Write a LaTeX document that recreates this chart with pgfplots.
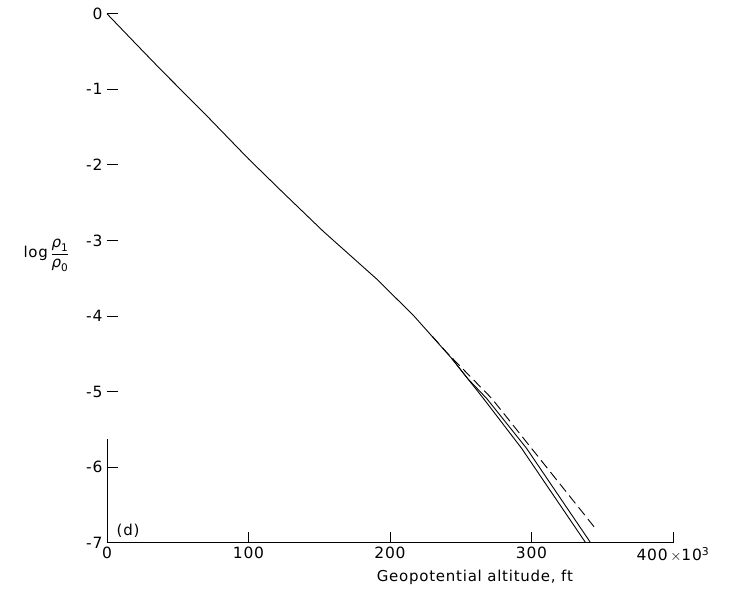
\documentclass[border=0pt]{standalone}
\usepackage{amsmath}
\usepackage{fontspec}
\setmainfont{DejaVu Sans}[LetterSpace=5]
\usepackage{pgfplots}
\pgfplotsset{compat=1.18}

\begin{document}
\begin{tikzpicture}
\begin{axis}[
  scale only axis, width=566pt, height=529pt,
  xmin=0, xmax=400, ymin=-7, ymax=0,
  axis x line*=bottom, axis y line*=left,
  y axis line style={draw=none},
  axis line style={line width=0.8pt},
  tick align=inside, major tick length=11pt,
  tick style={line width=0.8pt, black},
  xtick={0,100,200,300,400},
  xticklabels={0,100,200,300,{400\,$\times$10$^{\text{3}}$}},
  ytick={-7,-6,-5,-4,-3,-2,-1,0},
  yticklabels={-7,-6,-5,-4,-3,-2,-1,0},
  tick label style={font=\fontsize{15.5}{18}\selectfont},
  xticklabel style={yshift=-1pt},
  yticklabel style={xshift=-1pt},
  label style={font=\fontsize{15}{18}\selectfont},
  xlabel={Geopotential altitude, ft},
  xlabel style={at={(axis description cs:0.65,0)}, anchor=north, yshift=-24pt},
  ylabel={log\,$\dfrac{\textit{ρ}_{\text{1}}}{\textit{ρ}_{\text{0}}}$},
  ylabel style={at={(axis description cs:-0.06,0.543)}, anchor=east, rotate=-90},
  clip=false,
]
\pgfplotstableread{
x y
0 0
20 -0.39
38.6 -0.75
70 -1.34
100 -1.92
124.6 -2.37
152.9 -2.88
190.6 -3.51
216.5 -3.99
243.6 -4.56
266 -5.09
293 -5.75
338.3 -7
}\solidA
\addplot[black, line width=0.9pt] table {\solidA};
\addplot[black, line width=0.9pt] coordinates {
  (243.6,-4.56) (255,-4.83) (268.3,-5.09) (296.5,-5.75) (341.8,-7)};
\addplot[black, line width=0.9pt, dash pattern=on 10pt off 5pt] coordinates {
  (230,-4.27) (240,-4.48) (271.9,-5.09) (300,-5.75) (346,-6.83)};
\draw[line width=0.8pt] (axis cs:0,-7) -- (axis cs:0,-5.63);
\node[anchor=south west, font=\fontsize{15}{18}\selectfont, inner sep=1pt]
  at (axis cs:6,-6.95) {(d)};
\path (axis description cs:-0.189,-0.0945) rectangle (axis description cs:1.099,1.026);
\end{axis}
\end{tikzpicture}
\end{document}
